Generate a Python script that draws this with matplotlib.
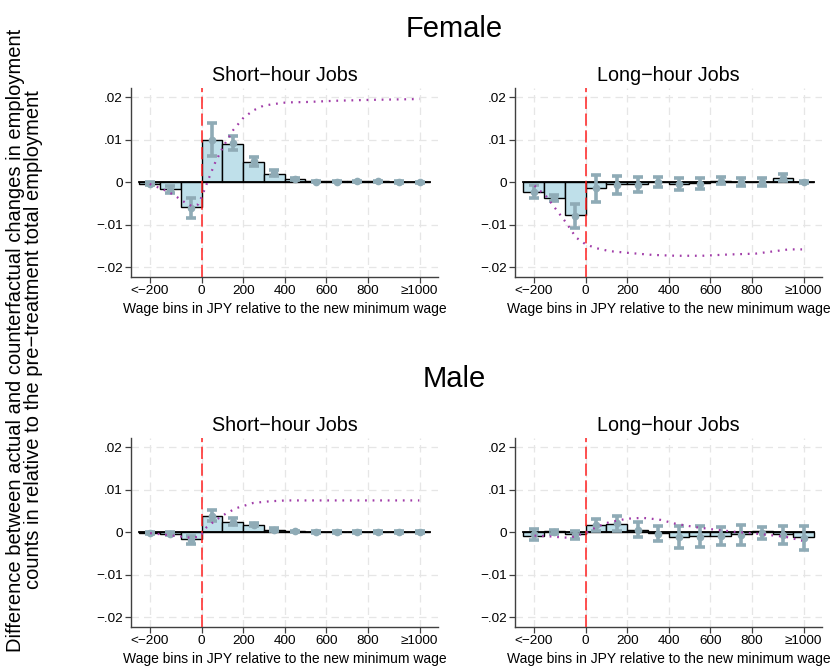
import numpy as np
import matplotlib
matplotlib.use("Agg")
import matplotlib.pyplot as plt

plt.rcParams['font.family'] = ['Liberation Sans', 'DejaVu Sans']

# bin centers (JPY relative to new minimum wage), 100-wide bins
bins = [-250, -150, -50, 50, 150, 250, 350, 450, 550, 650, 750, 850, 950, 1050]
tickPos = [-250, 0, 200, 400, 600, 800, 1050]
tickLab = ["<\u2212200", "0", "200", "400", "600", "800", "\u22651000"]

# Female, short-hour jobs
fsVals = [-0.0003, -0.0016, -0.0058, 0.0100, 0.0091, 0.0048, 0.0020, 0.0008, 0.0002, 0.0002, 0.0003, 0.0003, 0.0001, 0.0000]
fsLo = [-0.0006, -0.0025, -0.0084, 0.0061, 0.0077, 0.0039, 0.0014, 0.0005, 0.0000, 0.0000, 0.0001, 0.0001, -0.0001, -0.0001]
fsHi = [0.0000, -0.0009, -0.0037, 0.0140, 0.0108, 0.0059, 0.0028, 0.0011, 0.0003, 0.0003, 0.0004, 0.0004, 0.0002, 0.0001]
fsCurveX = [-250, -184, -136, -88, -48, -16, 8, 32, 64, 104, 152, 200, 248, 296, 344, 408, 504, 648, 808, 1050]
fsCurveY = [-0.0004, -0.0017, -0.0029, -0.0045, -0.0056, -0.0052, -0.0025, 0.0006, 0.0045, 0.0084, 0.0123, 0.0151, 0.0169, 0.0180, 0.0184, 0.0188, 0.0189, 0.0192, 0.0194, 0.0196]

# Female, long-hour jobs
flVals = [-0.0022, -0.0037, -0.0078, -0.0013, -0.0005, -0.0003, 0.0001, -0.0003, -0.0001, 0.0004, 0.0000, 0.0000, 0.0010, 0.0001]
flLo = [-0.0038, -0.0045, -0.0108, -0.0046, -0.0027, -0.0023, -0.0011, -0.0019, -0.0015, -0.0004, -0.0009, -0.0008, 0.0002, -0.0001]
flHi = [-0.0006, -0.0029, -0.0050, 0.0018, 0.0014, 0.0012, 0.0012, 0.0009, 0.0009, 0.0012, 0.0010, 0.0010, 0.0019, 0.0003]
flCurveX = [-246, -190, -142, -94, -46, 0, 50, 114, 200, 322, 434, 562, 690, 818, 914, 978, 1042]
flCurveY = [-0.0008, -0.0033, -0.0064, -0.0095, -0.0130, -0.0146, -0.0155, -0.0162, -0.0166, -0.0171, -0.0173, -0.0173, -0.0170, -0.0168, -0.0162, -0.0158, -0.0158]

# Male, short-hour jobs
msVals = [-0.0001, -0.0003, -0.0016, 0.0039, 0.0024, 0.0018, 0.0006, 0.0002, 0.0001, 0.0001, 0.0001, 0.0001, 0.0001, 0.0001]
msLo = [-0.0003, -0.0006, -0.0027, 0.0026, 0.0016, 0.0014, 0.0004, 0.0000, -0.0001, -0.0001, -0.0001, -0.0001, -0.0001, -0.0001]
msHi = [0.0001, 0.0000, -0.0008, 0.0053, 0.0034, 0.0022, 0.0009, 0.0004, 0.0002, 0.0002, 0.0002, 0.0002, 0.0002, 0.0002]
msCurveX = [-248, -152, -51, -8, 24, 72, 120, 168, 248, 328, 408, 568, 1048]
msCurveY = [-0.0002, -0.0007, -0.0013, -0.0010, 0.0012, 0.0030, 0.0045, 0.0057, 0.0069, 0.0073, 0.0075, 0.0075, 0.0075]

# Male, long-hour jobs
mlVals = [-0.0008, 0.0002, -0.0005, 0.0016, 0.0020, 0.0006, -0.0002, -0.0011, -0.0009, -0.0008, -0.0003, 0.0002, -0.0005, -0.0012]
mlLo = [-0.0017, -0.0004, -0.0015, 0.0002, 0.0004, -0.0011, -0.0021, -0.0038, -0.0034, -0.0029, -0.0030, -0.0015, -0.0027, -0.0041]
mlHi = [0.0008, 0.0006, 0.0004, 0.0032, 0.0038, 0.0024, 0.0014, 0.0014, 0.0014, 0.0012, 0.0016, 0.0012, 0.0014, 0.0014]
mlCurveX = [-246, -190, -142, -78, 0, 50, 114, 200, 274, 354, 434, 530, 626, 722, 818, 914, 978, 1042]
mlCurveY = [-0.0008, -0.0009, -0.0011, -0.0013, -0.0002, 0.0012, 0.0024, 0.0032, 0.0034, 0.0030, 0.0020, 0.0012, 0.0006, 0.0001, -0.0003, -0.0008, -0.0012, -0.0020]

barColor = '#bfe0ea'
ciColor = '#8fabb6'
curveColor = '#a03ca8'
axisColor = '#404040'


def drawPanel(ax, vals, lo, hi, cx, cy, title):
    ax.set_xlim(-340, 1138)
    ax.set_ylim(-0.0223, 0.0222)
    for y in [-0.02, -0.01, 0.01, 0.02]:
        ax.axhline(y, color='#e6e6e6', lw=0.9, ls=(0, (6, 4)), zorder=0)
    for x in tickPos:
        ax.axvline(x, color='#e6e6e6', lw=0.9, ls=(0, (6, 4)), zorder=0)
    ax.bar(bins, vals, width=100, color=barColor, edgecolor='black', linewidth=1.0, zorder=2)
    ax.plot([-300, 1100], [0, 0], color='black', lw=1.3, zorder=3)
    mid = [(a + b) / 2 for a, b in zip(lo, hi)]
    err = [[m - a for m, a in zip(mid, lo)], [b - m for m, b in zip(mid, hi)]]
    ax.errorbar(bins, mid, yerr=err, fmt='o', color=ciColor, ms=4.5, elinewidth=2.6,
                capsize=3.5, capthick=2.6, zorder=4)
    ax.axvline(0, color='#ff2020', lw=1.1, ls=(0, (8, 3)), zorder=5)
    ax.plot(cx, cy, color=curveColor, lw=1.6, ls=(0, (0.8, 2.6)), zorder=6)
    ax.set_xticks(tickPos)
    ax.set_xticklabels(tickLab)
    ax.set_yticks([-0.02, -0.01, 0, 0.01, 0.02])
    ax.set_yticklabels(["\u2212.02", "\u2212.01", "0", ".01", ".02"])
    ax.tick_params(direction='out', length=4, width=0.9, color=axisColor, labelsize=9.7, pad=2)
    for s in ['top', 'right']:
        ax.spines[s].set_visible(False)
    for s in ['left', 'bottom']:
        ax.spines[s].set_color(axisColor)
        ax.spines[s].set_linewidth(1.0)
    ax.set_title(title, fontsize=14.2, pad=5)
    ax.set_xlabel("Wage bins in JPY relative to the new minimum wage", fontsize=10, labelpad=3)


fig = plt.figure(figsize=(8.36, 6.66), dpi=100)
w = 307 / 836
h = 189 / 666
axFS = fig.add_axes([131 / 836, 1 - 277 / 666, w, h])
axFL = fig.add_axes([515 / 836, 1 - 277 / 666, w, h])
axMS = fig.add_axes([131 / 836, 1 - 627 / 666, w, h])
axML = fig.add_axes([515 / 836, 1 - 627 / 666, w, h])

drawPanel(axFS, fsVals, fsLo, fsHi, fsCurveX, fsCurveY, "Short\u2212hour Jobs")
drawPanel(axFL, flVals, flLo, flHi, flCurveX, flCurveY, "Long\u2212hour Jobs")
drawPanel(axMS, msVals, msLo, msHi, msCurveX, msCurveY, "Short\u2212hour Jobs")
drawPanel(axML, mlVals, mlLo, mlHi, mlCurveX, mlCurveY, "Long\u2212hour Jobs")

fig.text(454 / 836, 1 - 37 / 666, "Female", fontsize=21, ha='center', va='baseline')
fig.text(454 / 836, 1 - 387 / 666, "Male", fontsize=21, ha='center', va='baseline')
fig.text(0.029, 1 - 340 / 666, "Difference between actual and counterfactual changes in employment\n"
         "counts in relative to the pre\u2212treatment total employment",
         rotation=90, fontsize=14.5, ha='center', va='center', multialignment='center',
         linespacing=0.95)

fig.savefig("out.png", dpi=100)
